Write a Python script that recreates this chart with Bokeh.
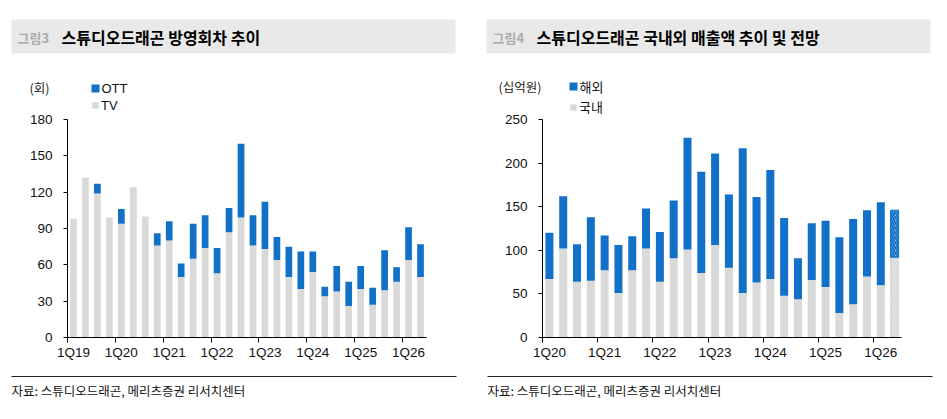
from bokeh.plotting import figure
from bokeh.models import ColumnDataSource, Range1d, FixedTicker, Legend, LegendItem
from bokeh.core.properties import value
from bokeh.layouts import row, column
from bokeh.embed import file_html
from bokeh.resources import INLINE

# ---------------- data ----------------
ep_quarters = ["1Q19", "2Q19", "3Q19", "4Q19", "1Q20", "2Q20", "3Q20", "4Q20",
               "1Q21", "2Q21", "3Q21", "4Q21", "1Q22", "2Q22", "3Q22", "4Q22",
               "1Q23", "2Q23", "3Q23", "4Q23", "1Q24", "2Q24", "3Q24", "4Q24",
               "1Q25", "2Q25", "3Q25", "4Q25", "1Q26", "2Q26"]
ep_tv = [98, 132, 119, 99, 94, 124, 100, 76, 80, 50, 65, 74, 53, 87, 99, 76,
         73, 64, 50, 40, 54, 34, 38, 26, 40, 27, 39, 46, 64, 50]
ep_ott = [0, 0, 8, 0, 12, 0, 0, 10, 16, 11, 29, 27, 21, 20, 61, 25,
          39, 19, 25, 31, 17, 8, 21, 20, 19, 14, 33, 12, 27, 27]
ep_yticks = [0, 30, 60, 90, 120, 150, 180]

rev_quarters = ["1Q20", "2Q20", "3Q20", "4Q20", "1Q21", "2Q21", "3Q21", "4Q21",
                "1Q22", "2Q22", "3Q22", "4Q22", "1Q23", "2Q23", "3Q23", "4Q23",
                "1Q24", "2Q24", "3Q24", "4Q24", "1Q25", "2Q25", "3Q25", "4Q25",
                "1Q26", "2Q26E"]
rev_domestic = [67, 102, 64, 65, 77, 51, 77, 102, 64, 91, 101, 74, 106, 80, 51, 63,
                67, 48, 44, 66, 58, 28, 38, 70, 60, 92]
rev_overseas = [53, 60, 43, 73, 40, 55, 39, 46, 57, 66, 128, 116, 105, 84, 166, 98,
                125, 89, 47, 65, 76, 87, 98, 76, 95, 54]
rev_yticks = [0, 50, 100, 150, 200, 250]

source_text = "자료: 스튜디오드래곤, 메리츠증권 리서치센터"

# ---------------- style ----------------
BLUE = "#1170C8"
GRAY = "#D9D9D9"
BAND = "#E9E9E9"
KFONT = "Noto Sans CJK KR"
NFONT = "Liberation Sans"
TOP_H, FOOT_H = 96, 38
FRAME_W, FRAME_H, PLOT_H = 359, 241, 218   # PLOT_H: pixels from 0 to the top tick
MB_BOTTOM = 35


def blank_fig(width, height):
    f = figure(width=width, height=height, output_backend="svg", toolbar_location=None,
               x_range=Range1d(0, width), y_range=Range1d(height, 0),
               x_axis_type=None, y_axis_type=None, min_border=0,
               min_border_left=0, min_border_right=0, min_border_top=0,
               min_border_bottom=0, frame_align=False)
    f.grid.visible = False
    f.outline_line_color = None
    f.background_fill_color = "white"
    f.border_fill_color = "white"
    return f


def make_top(width, band_l, band_r, fig_no, title, unit, unit_x, unit_y,
             key_x, key_y, key_label, key_font):
    t = blank_fig(width, TOP_H)
    t.quad(left=[band_l], right=[band_r], top=[19], bottom=[53],
           fill_color=BAND, line_color=None)
    t.text(x=[band_l + 6], y=[36.5], text=[fig_no], text_font=value(KFONT),
           text_font_size="13px", text_font_style="bold", text_color="#ABABAB",
           text_baseline="middle", text_align="left")
    t.text(x=[band_l + 50], y=[36.5], text=[title], text_font=value(KFONT),
           text_font_size="16px", text_font_style="bold", text_color="#000000",
           text_baseline="middle", text_align="left")
    t.text(x=[unit_x], y=[unit_y], text=[unit], text_font=value(KFONT),
           text_font_size="12.5px", text_color="#222222",
           text_baseline="middle", text_align="left")
    # first legend key (upper series)
    t.rect(x=[key_x], y=[key_y], width=8, height=8, fill_color=BLUE, line_color=None)
    t.text(x=[key_x + 6], y=[key_y], text=[key_label], text_font=value(key_font),
           text_font_size="13px", text_color="#111111",
           text_baseline="middle", text_align="left")
    return t


def make_foot(width, line_l, line_r):
    f = blank_fig(width, FOOT_H)
    f.quad(left=[line_l], right=[line_r], top=[3.5], bottom=[4.6],
           fill_color="#222222", line_color=None)
    f.text(x=[line_l], y=[18], text=[source_text], text_font=value(KFONT),
           text_font_size="12.5px", text_color="#111111",
           text_baseline="middle", text_align="left")
    return f


def make_chart(cats, lower, upper, lower_name, ymax, yticks,
               mb_left, mb_right, bar_w, leg_x, leg_y, leg_h, leg_font):
    n = len(cats)
    fc = [c.endswith("E") for c in cats]
    src = ColumnDataSource(dict(
        x=list(range(n)),
        lower=lower,
        upper=upper,
        lower_fill=["white" if f else GRAY for f in fc],
        upper_fill=["white" if f else BLUE for f in fc],
        lower_hatch=[GRAY for f in fc],
        upper_hatch=[BLUE for f in fc],
        lower_line=[GRAY if f else None for f in fc],
        upper_line=[BLUE if f else None for f in fc],
        hatch=["left_diagonal_line" if f else "blank" for f in fc],
    ))
    p = figure(frame_width=FRAME_W, frame_height=FRAME_H, output_backend="svg",
               toolbar_location=None,
               x_range=Range1d(-0.5, n - 0.5),
               y_range=Range1d(0, ymax * FRAME_H / PLOT_H),
               min_border_left=mb_left, min_border_right=mb_right,
               min_border_top=0, min_border_bottom=MB_BOTTOM, frame_align=False)
    p.grid.visible = False
    p.outline_line_color = None
    p.background_fill_color = "white"
    p.border_fill_color = "white"

    rs = p.vbar_stack(["lower", "upper"], x="x", width=bar_w, source=src,
                      fill_color=["lower_fill", "upper_fill"],
                      line_color=["lower_line", "upper_line"],
                      hatch_color=["lower_hatch", "upper_hatch"],
                      hatch_pattern="hatch", hatch_scale=5, hatch_weight=2,
                      line_width=1)

    xa = p.xaxis[0]
    xa.ticker = FixedTicker(ticks=list(range(0, n, 4)),
                            minor_ticks=[i - 0.5 for i in range(0, n, 4)])
    xa.major_label_overrides = {i: cats[i] for i in range(0, n, 4)}
    xa.major_tick_line_color = None
    xa.major_tick_out = 0
    xa.major_tick_in = 0
    xa.minor_tick_line_color = "black"
    xa.minor_tick_out = 5
    xa.minor_tick_in = 0
    xa.axis_line_color = "black"
    xa.major_label_standoff = 2
    xa.major_label_text_font = NFONT
    xa.major_label_text_font_size = "13.5px"
    xa.major_label_text_color = "#111111"

    ya = p.yaxis[0]
    ya.ticker = FixedTicker(ticks=yticks, minor_ticks=[])
    ya.bounds = (0, ymax)
    ya.major_tick_out = 4
    ya.major_tick_in = 0
    ya.minor_tick_line_color = None
    ya.axis_line_color = "black"
    ya.major_tick_line_color = "black"
    ya.major_label_standoff = 11
    ya.major_label_text_font = NFONT
    ya.major_label_text_font_size = "13.5px"
    ya.major_label_text_color = "#111111"

    legend = Legend(items=[LegendItem(label=lower_name, renderers=[rs[0]])],
                    location=(leg_x, leg_y), orientation="vertical",
                    glyph_width=8, glyph_height=8, label_standoff=2,
                    label_height=leg_h, label_width=10, spacing=0, padding=0, margin=0,
                    border_line_color=None, background_fill_alpha=0,
                    label_text_font=leg_font, label_text_font_size="13px",
                    label_text_color="#111111", label_text_baseline="middle")
    p.add_layout(legend)
    return p


left = column(
    make_top(470, 11, 455, "그림3", "스튜디오드래곤 방영회차 추이", "(회)", 29, 87,
             95, 88, "OTT", NFONT),
    make_chart(ep_quarters, ep_tv, ep_ott, "TV", 180, ep_yticks,
               67, 44, 0.56, 24, 223.5, 17, NFONT),
    make_foot(470, 11, 456),
    spacing=0)

right = column(
    make_top(468, 16, 460, "그림4", "스튜디오드래곤 국내외 매출액 추이 및 전망", "(십억원)", 28, 86,
             103, 86, "해외", KFONT),
    make_chart(rev_quarters, rev_domestic, rev_overseas, "국내", 250, rev_yticks,
               72, 37, 0.58, 27, 220.5, 20, KFONT),
    make_foot(468, 17, 462),
    spacing=0)

layout = row(left, right, spacing=0)
open("out.html", "w").write(file_html(layout, INLINE))
